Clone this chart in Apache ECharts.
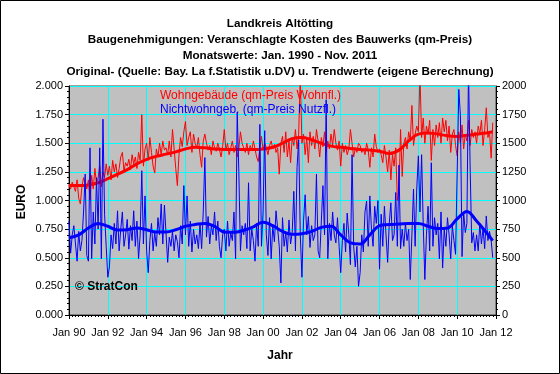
<!DOCTYPE html>
<html><head><meta charset="utf-8">
<script src="https://cdn.jsdelivr.net/npm/echarts@6/dist/echarts.min.js"></script>
<style>html,body{margin:0;padding:0;background:#fff}#c{width:560px;height:374px}</style>
</head><body><div id="c"></div>
<script>
// Monthly data Jan 1990 - Nov 2011
const startYear = 1990;
const titleLines = [
  'Landkreis Altötting',
  'Baugenehmigungen: Veranschlagte Kosten des Bauwerks (qm-Preis)',
  'Monatswerte: Jan. 1990 - Nov. 2011',
  'Original- (Quelle: Bay. La f.Statistik u.DV) u. Trendwerte (eigene Berechnung)'
];
const seriesNames = ['Wohngebäude (qm-Preis Wohnfl.)', 'Nichtwohngeb. (qm-Preis Nutzfl.)'];
const leftTicks = [0, 0.25, 0.5, 0.75, 1, 1.25, 1.5, 1.75, 2];
const rightTicks = [0, 250, 500, 750, 1000, 1250, 1500, 1750, 2000];
const xTickYears = [1990,1992,1994,1996,1998,2000,2002,2004,2006,2008,2010,2012];

// Wohngebäude, monthly original values (thousand EUR per qm, left axis)
const wohnOrig = [
1.13,1.10,1.16,1.12,1.08,1.18,1.02,0.97,1.12,1.20,1.15,1.10,
1.18,1.00,1.22,1.10,1.28,1.15,1.20,1.30,1.12,1.25,1.20,1.32,
1.22,1.30,1.18,1.35,1.25,1.32,1.20,1.28,1.38,1.42,1.26,1.33,
1.30,1.36,1.27,1.40,1.32,1.38,1.28,1.42,1.35,1.75,1.30,1.45,
1.50,1.35,1.55,1.42,1.30,1.24,1.45,1.38,1.50,1.40,1.52,1.44,
1.46,1.40,1.52,1.38,1.62,1.45,1.28,1.13,1.40,1.55,1.47,1.60,
1.69,1.48,1.55,1.60,1.42,1.58,1.50,1.46,1.55,1.40,1.29,1.52,
1.58,1.50,1.44,1.48,1.40,1.52,1.46,1.43,1.50,1.45,1.38,1.47,
1.62,1.44,1.50,1.40,1.46,1.52,1.42,1.48,1.38,1.45,1.60,1.50,
1.46,1.42,1.50,1.40,1.48,1.44,1.52,1.45,1.38,1.34,1.46,1.56,
1.44,1.50,1.46,1.40,1.48,1.52,1.45,1.49,1.42,1.46,1.23,1.50,
1.56,1.42,1.60,1.38,1.52,1.33,1.55,1.48,1.62,1.45,1.58,2.10,
1.50,1.58,1.40,1.55,1.33,1.60,1.48,1.56,1.45,1.62,1.52,1.38,
1.55,1.47,1.60,1.42,1.52,1.45,1.58,1.48,1.62,1.50,1.44,1.52,
1.30,1.50,1.42,1.48,1.40,1.45,1.62,1.50,1.38,1.46,1.42,1.50,
1.48,1.42,1.45,1.40,1.50,1.44,1.29,1.46,1.38,1.58,1.47,1.42,
1.45,1.40,1.33,1.48,1.38,1.25,1.44,1.18,1.40,1.30,1.46,1.00,
1.08,1.62,1.21,1.50,1.55,1.45,1.60,1.52,1.83,1.48,1.58,1.65,
1.60,2.10,1.55,1.72,1.50,1.65,1.58,1.70,1.35,1.62,1.48,1.66,
1.55,1.68,1.50,1.72,1.60,1.70,1.52,1.65,1.42,1.58,1.62,1.48,
1.39,1.60,1.50,1.66,1.45,1.58,1.52,1.70,1.48,1.62,1.55,1.60,
1.50,1.65,1.58,1.70,1.48,1.62,1.81,1.55,1.60,1.37,1.68
];

// Nichtwohngebäude, monthly original values (EUR per qm, right axis)
const nichtOrig = [
820,540,700,780,620,470,730,560,650,900,1230,520,
470,1460,490,900,620,1200,750,1460,490,1710,880,600,
330,420,700,580,800,620,910,560,750,900,600,700,
835,575,780,650,910,600,820,490,700,1260,620,1040,
560,370,650,800,560,720,600,850,700,970,620,960,
950,460,680,600,730,560,700,640,500,780,620,1130,
700,1040,600,820,550,750,620,700,580,800,580,900,
1375,680,860,620,780,700,900,650,820,600,500,700,
750,560,820,600,720,650,900,490,1770,1250,560,780,
700,800,580,1155,560,750,650,470,800,600,1665,600,
900,1610,700,520,850,490,780,640,910,920,600,280,
850,600,720,550,830,620,720,1080,560,1290,1530,700,
330,820,1050,700,860,590,780,650,700,1230,560,500,
500,1130,700,1880,490,800,650,900,700,630,850,600,
370,650,800,550,890,700,440,1400,600,420,600,250,
370,700,550,900,995,600,1040,750,600,950,800,1000,
400,880,600,950,700,460,800,980,650,700,1070,600,
1310,580,750,600,800,650,750,310,700,1100,600,1100,
1390,900,1400,800,310,700,950,560,1330,600,850,700,
800,490,900,410,750,600,850,700,490,780,650,530,
530,1970,1740,510,900,720,800,2150,1300,630,720,560,
700,560,800,620,760,580,865,650,730,650,500
];

// Trend values read at half-year points
const trendYears = [1990,1990.5,1991,1991.5,1992,1992.5,1993,1993.5,1994,1994.5,1995,1995.5,1996,1996.5,1997,1997.5,1998,1998.5,1999,1999.5,2000,2000.5,2001,2001.5,2002,2002.5,2003,2003.5,2004,2004.5,2005,2005.5,2006,2006.5,2007,2007.5,2008,2008.5,2009,2009.5,2010,2010.5,2011,2011.5,2011.83];
const wohnTrend = [1.13,1.13,1.135,1.155,1.19,1.23,1.27,1.32,1.36,1.385,1.405,1.425,1.45,1.465,1.46,1.45,1.445,1.445,1.445,1.445,1.45,1.465,1.50,1.54,1.55,1.53,1.50,1.475,1.465,1.455,1.445,1.44,1.43,1.41,1.44,1.52,1.58,1.59,1.58,1.565,1.56,1.57,1.58,1.59,1.60];
const nichtTrend = [675,700,760,800,775,742,745,760,745,725,725,745,775,790,800,775,725,722,740,770,810,780,730,705,710,730,765,775,700,630,620,700,780,790,795,800,800,775,755,760,840,905,820,720,650];

const FONT = '"Liberation Sans", Arial, sans-serif';
const toPairs = (arr) => arr.map((v, i) => [startYear + i / 12, v]);
const zip = (xs, ys) => xs.map((x, i) => [x, ys[i]]);

const chart = echarts.init(document.getElementById('c'), null, {renderer: 'canvas'});

const gridL = 69, gridR = 64, gridT = 86, gridB = 59;

const graphics = [
  {type: 'rect', shape: {x: 0.5, y: 0.5, width: 559, height: 373}, style: {fill: 'none', stroke: '#000', lineWidth: 1}, z: 100, silent: true}
];
titleLines.forEach((t, i) => {
  graphics.push({type: 'text', x: 280, y: 24 + i * 16, style: {text: t, fill: '#000', font: 'bold 11.7px ' + FONT, textAlign: 'center', textVerticalAlign: 'middle'}, z: 100});
});
graphics.push({type: 'text', x: 160, y: 96, style: {text: seriesNames[0], fill: '#ff0000', font: '12px ' + FONT, textAlign: 'left', textVerticalAlign: 'middle'}, z: 100});
graphics.push({type: 'text', x: 160, y: 110, style: {text: seriesNames[1], fill: '#0000ff', font: '12px ' + FONT, textAlign: 'left', textVerticalAlign: 'middle'}, z: 100});
graphics.push({type: 'text', x: 75, y: 287, style: {text: '© StratCon', fill: '#000', font: 'bold 12px ' + FONT, textAlign: 'left', textVerticalAlign: 'middle'}, z: 100});
graphics.push({type: 'text', x: 280, y: 356, style: {text: 'Jahr', fill: '#000', font: 'bold 12px ' + FONT, textAlign: 'center', textVerticalAlign: 'middle'}, z: 100});
graphics.push({type: 'text', x: 22, y: 202, rotation: Math.PI / 2, style: {text: 'EURO', fill: '#000', font: 'bold 12px ' + FONT, textAlign: 'center', textVerticalAlign: 'middle'}, z: 100});

const axisCommon = {
  axisLine: {show: true, lineStyle: {color: '#000', width: 1}},
  axisTick: {show: true, length: 4, lineStyle: {color: '#000'}},
  axisLabel: {color: '#000', fontFamily: FONT, fontSize: 11}
};

chart.setOption({
  animation: false,
  backgroundColor: '#fff',
  grid: {left: gridL, right: gridR, top: gridT, bottom: gridB, show: true, backgroundColor: '#c0c0c0', borderColor: '#404040', borderWidth: 1},
  graphic: graphics,
  xAxis: Object.assign({}, axisCommon, {
    type: 'value', min: xTickYears[0], max: xTickYears[xTickYears.length - 1], interval: 2,
    axisLabel: Object.assign({}, axisCommon.axisLabel, {margin: 12, formatter: v => 'Jan ' + String(v).slice(2)}),
    minorTick: {show: true, splitNumber: 12, length: 2, lineStyle: {color: '#000'}},
    splitLine: {show: true, lineStyle: {color: '#00ffff', width: 1}}
  }),
  yAxis: [
    Object.assign({}, axisCommon, {
      type: 'value', min: leftTicks[0], max: leftTicks[leftTicks.length - 1], interval: 0.25, position: 'left',
      axisLabel: Object.assign({}, axisCommon.axisLabel, {margin: 6, formatter: v => v.toFixed(3)}),
      minorTick: {show: true, splitNumber: 5, length: 2, lineStyle: {color: '#000'}},
      splitLine: {show: true, lineStyle: {color: '#00ffff', width: 1}}
    }),
    Object.assign({}, axisCommon, {
      type: 'value', min: rightTicks[0], max: rightTicks[rightTicks.length - 1], interval: 250, position: 'right',
      axisLabel: Object.assign({}, axisCommon.axisLabel, {margin: 6, formatter: v => String(v)}),
      minorTick: {show: true, splitNumber: 5, length: 2, lineStyle: {color: '#000'}},
      splitLine: {show: false}
    })
  ],
  series: [
    {name: seriesNames[0], type: 'line', yAxisIndex: 0, data: toPairs(wohnOrig), showSymbol: false, symbol: 'none', clip: true,
     lineStyle: {color: '#ff0000', width: 1}, z: 2},
    {name: seriesNames[0] + ' Trend', type: 'line', yAxisIndex: 0, data: zip(trendYears, wohnTrend), showSymbol: false, symbol: 'none', smooth: 0.4,
     lineStyle: {color: '#ff0000', width: 3}, z: 3},
    {name: seriesNames[1], type: 'line', yAxisIndex: 1, data: toPairs(nichtOrig), showSymbol: false, symbol: 'none', clip: true,
     lineStyle: {color: '#0000ff', width: 1}, z: 4},
    {name: seriesNames[1] + ' Trend', type: 'line', yAxisIndex: 1, data: zip(trendYears, nichtTrend), showSymbol: false, symbol: 'none', smooth: 0.4,
     lineStyle: {color: '#0000ff', width: 3}, z: 5}
  ]
});
</script></body></html>
